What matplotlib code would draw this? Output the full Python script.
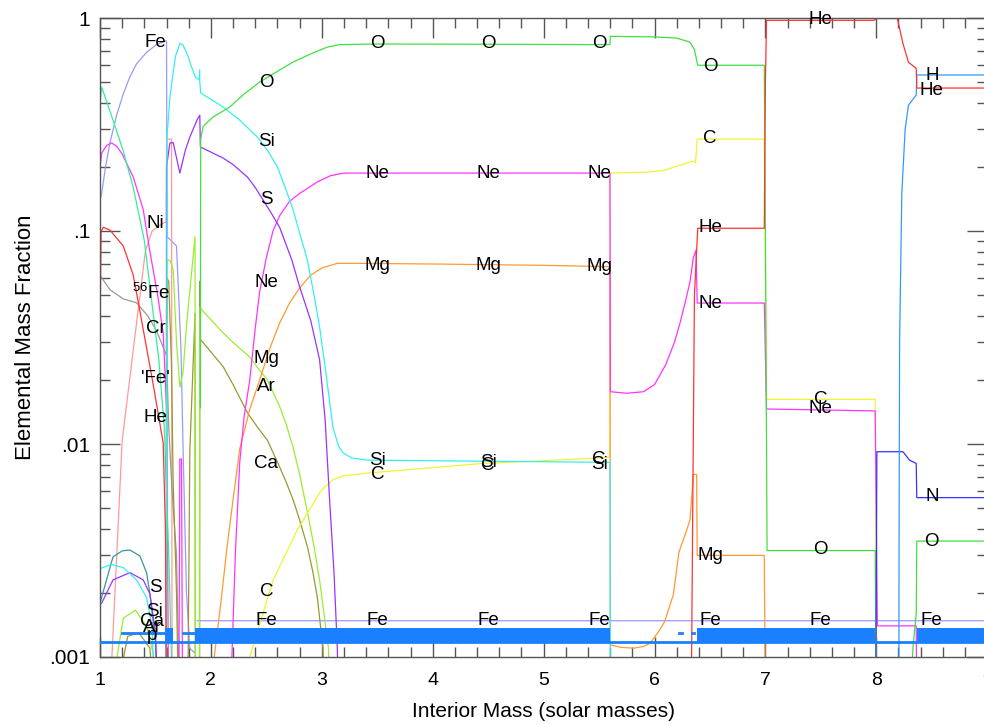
import numpy as np
import matplotlib
matplotlib.use('Agg')
import matplotlib.pyplot as plt
from matplotlib.ticker import FixedLocator, NullFormatter, LogLocator, FixedFormatter

plt.rcParams['font.family'] = ['Liberation Sans', 'DejaVu Sans']
plt.rcParams['mathtext.fontset'] = 'custom'
plt.rcParams['mathtext.rm'] = 'Liberation Sans'
plt.rcParams['mathtext.default'] = 'regular'

nan = np.nan
LOW = 5e-4

# ---------------- data (interior mass, mass fraction) ----------------
fe_x = [1.0, 1.015, 1.05, 1.09, 1.15, 1.21, 1.27, 1.33, 1.42, 1.51, 1.59, 1.60, 1.605, 1.69, 1.73,
        1.75, 1.78, 1.81, 1.85, nan, 1.875, 9.0]
fe_y = [0.14, 0.15, 0.2, 0.26, 0.35, 0.44, 0.53, 0.61, 0.69, 0.75, 0.78, 0.78, 0.094, 0.085, 0.028,
        0.009, 0.002, 0.0011, 0.00105, nan, 0.00148, 0.00148]

ni_x = [1.08, 1.2, 1.30, 1.41, 1.47, 1.57, 1.597, 1.60, 1.645, 1.65]
ni_y = [LOW, 0.0104, 0.0277, 0.081, 0.10, 0.109, 0.11, 0.27, 0.27, LOW]

fe56_x = [1.0, 1.015, 1.06, 1.105, 1.15, 1.2, 1.30, 1.39, 1.45, 1.52, 1.57, 1.60, 1.62]
fe56_y = [0.20, 0.232, 0.252, 0.259, 0.25, 0.23, 0.179, 0.126, 0.08, 0.05, 0.033, 0.015, LOW]

cr_x = [1.0, 1.09, 1.21, 1.33, 1.43, 1.51, 1.60, 1.62, 1.65, 1.69, 1.72]
cr_y = [0.062, 0.053, 0.048, 0.046, 0.040, 0.034, 0.026, 0.012, 0.006, 0.003, LOW]

feq_x = [1.0, 1.015, 1.117, 1.207, 1.30, 1.40, 1.47, 1.53, 1.58, 1.62, 1.66]
feq_y = [0.40, 0.474, 0.332, 0.24, 0.16, 0.09, 0.045, 0.025, 0.012, 0.003, LOW]

he_x = [1.0, 1.01, 1.03, 1.09, 1.21, 1.30, 1.36, 1.48, 1.57, 1.59, 1.60, nan,
        6.33, 6.36, 6.39, 6.99, 7.0, 7.01, 7.98, 8.0, 8.19, 8.24, 8.29, 8.36, 8.365, 9.0]
he_y = [0.035, 0.10, 0.104, 0.101, 0.085, 0.062, 0.042, 0.019, 0.0101, 0.004, LOW, nan,
        LOW, 0.05, 0.103, 0.103, 0.5, 0.975, 0.975, 0.995, 0.995, 0.76, 0.62, 0.58, 0.469, 0.469]

h_x = [8.203, 8.205, 8.21, 8.23, 8.26, 8.29, 8.36, 8.365, 9.0]
h_y = [LOW, 0.003, 0.03, 0.15, 0.30, 0.39, 0.435, 0.54, 0.54]

n_x = [7.995, 8.005, 8.24, 8.30, 8.36, 8.365, 9.0]
n_y = [LOW, 0.0092, 0.0092, 0.0084, 0.0081, 0.0056, 0.0056]

o_x = [1.905, 1.908, 1.93, 2.02, 2.17, 2.30, 2.44, 2.62, 2.75, 2.92, 3.05, 3.16, 3.5, 5.598, 5.602,
       6.0, 6.2, 6.32, 6.36, 6.38, 6.39, 6.99, 7.0, 7.015, 7.99, 8.0, nan,
       8.30, 8.33, 8.36, 8.365, 9.0]
o_y = [0.0148, 0.27, 0.31, 0.343, 0.382, 0.44, 0.50, 0.57, 0.625, 0.685, 0.73, 0.75, 0.755, 0.75, 0.82,
       0.815, 0.805, 0.77, 0.71, 0.635, 0.60, 0.60, 0.1, 0.00316, 0.00316, LOW, nan,
       LOW, 0.0011, 0.0016, 0.0035, 0.0035]

si_x = [1.0, 1.1, 1.21, 1.33, 1.42, 1.47, 1.5, nan,
        1.598, 1.604, 1.63, 1.65, 1.68, 1.72, 1.75, 1.79, 1.82, 1.86, 1.895, 1.898, 1.90, 1.908,
        2.11, 2.25, 2.42, 2.52, 2.60, 2.67, 2.74, 2.80, 2.87, 2.93, 2.98, 3.04, 3.10, 3.15, 3.19,
        3.27, 3.41, 4.5, 5.598, 5.602]
si_y = [0.0026, 0.00272, 0.00263, 0.0023, 0.0019, 0.00138, LOW, nan,
        LOW, 0.276, 0.42, 0.51, 0.66, 0.76, 0.745, 0.67, 0.60, 0.528, 0.512, 0.57, 0.50, 0.445,
        0.382, 0.335, 0.276, 0.235, 0.20, 0.16, 0.126, 0.098, 0.073, 0.05, 0.0355, 0.021, 0.012, 0.0098, 0.0091,
        0.0086, 0.0084, 0.0083, 0.0082, LOW]

s_x = [1.015, 1.117, 1.27, 1.39, 1.45, 1.5, 1.53, nan,
       1.598, 1.60, 1.63, 1.66, 1.72, 1.77, 1.81, 1.875, 1.90, 1.905, 2.11, 2.2, 2.33, 2.40, 2.47, 2.55,
       2.62, 2.73, 2.80, 2.90, 2.98, 3.03, 3.07, 3.11, 3.14, 3.15]
s_y = [0.00179, 0.0023, 0.00249, 0.0023, 0.00198, 0.0013, LOW, nan,
       LOW, 0.2, 0.259, 0.26, 0.187, 0.24, 0.276, 0.332, 0.35, 0.248, 0.22, 0.205, 0.179, 0.16, 0.14, 0.12,
       0.104, 0.073, 0.0547, 0.038, 0.0249, 0.013, 0.0055, 0.0025, 0.0011, LOW]

ne_x = [1.71, 1.72, 1.735, 1.745, nan, 2.17, 2.22, 2.26, 2.30, 2.35, 2.40, 2.44, 2.50, 2.56, 2.62,
        2.71, 2.80, 2.96, 3.08, 3.2, 5.598, 5.602, 5.75, 5.9, 6.0, 6.1, 6.18, 6.23, 6.28, 6.32, 6.35,
        6.375, 6.385, 6.99, 7.01, 7.99, 8.01, 8.36, 8.365]
ne_y = [LOW, 0.0085, 0.0085, LOW, nan, LOW, 0.003, 0.0082, 0.0135, 0.0199, 0.035, 0.052, 0.075, 0.10, 0.118,
        0.138, 0.150, 0.170, 0.182, 0.187, 0.187, 0.0176, 0.0173, 0.0176, 0.019, 0.0235, 0.030, 0.037, 0.047,
        0.0577, 0.0747, 0.0815, 0.0459, 0.0459, 0.0146, 0.0143, 0.0014, 0.0014, LOW]

mg_x = [2.0, 2.03, 2.09, 2.145, 2.2, 2.26, 2.35, 2.44, 2.53, 2.62, 2.71, 2.80, 2.90, 3.0, 3.14, 3.3,
        4.0, 5.0, 5.598, 5.602, 5.7, 5.81, 5.9, 5.96, 6.03, 6.09, 6.17, 6.22, 6.28, 6.32, 6.34, 6.35,
        6.38, 6.385, 6.99, 7.0]
mg_y = [LOW, 0.001, 0.0018, 0.00326, 0.0055, 0.0095, 0.0145, 0.020, 0.028, 0.037, 0.046, 0.054, 0.062,
        0.067, 0.0705, 0.0705, 0.070, 0.069, 0.068, 0.00114, 0.00111, 0.0011, 0.00112, 0.00116, 0.0013,
        0.00146, 0.00196, 0.0031, 0.0038, 0.0044, 0.006, 0.0072, 0.0072, 0.0030, 0.0030, LOW]

c_x = [2.33, 2.35, 2.56, 2.78, 2.96, 3.0, 3.10, 3.2, 3.41, 4.45, 5.51, 5.598, 5.602, 5.93, 6.08, 6.23,
       6.35, 6.37, 6.385, 6.99, 7.01, 7.99, 8.005]
c_y = [LOW, 0.001, 0.00229, 0.00396, 0.00565, 0.0061, 0.0068, 0.0071, 0.0073, 0.0081, 0.0086, 0.0087,
       0.187, 0.189, 0.192, 0.204, 0.213, 0.21, 0.27, 0.27, 0.0162, 0.0162, LOW]

ar_x = [1.06, 1.21, 1.32, 1.42, 1.48, 1.5, nan,
        1.598, 1.604, 1.63, 1.66, 1.69, 1.72, 1.75, 1.78, 1.857, 1.86, nan,
        1.895, 1.90, 2.11, 2.2, 2.35, 2.43, 2.51, 2.62, 2.68, 2.74, 2.80, 2.87, 2.93, 2.98, 3.06, 3.08]
ar_y = [LOW, 0.00152, 0.00166, 0.00139, 0.00104, LOW, nan,
        LOW, 0.073, 0.073, 0.066, 0.03, 0.0185, 0.022, 0.036, 0.094, LOW, nan,
        LOW, 0.0437, 0.0332, 0.030, 0.0256, 0.0225, 0.0200, 0.0150, 0.0123, 0.0097, 0.0072, 0.0048,
        0.0033, 0.0023, 0.0011, LOW]

ca_x = [1.1, 1.25, 1.35, 1.45, 1.5, nan,
        1.598, 1.605, 1.62, 1.645, 1.66, 1.69, 1.71, nan,
        1.79, 1.81, 1.857, 1.86, nan,
        1.898, 1.90, 1.905, 2.11, 2.2, 2.33, 2.42, 2.51, 2.62, 2.68, 2.74, 2.80, 2.87, 2.92, 2.96, 3.01, 3.03]
ca_y = [LOW, 0.00125, 0.0013, 0.0011, LOW, nan,
        LOW, 0.06, 0.058, 0.023, 0.0065, 0.002, LOW, nan,
        LOW, 0.0093, 0.041, LOW, nan,
        LOW, 0.058, 0.031, 0.0231, 0.019, 0.0140, 0.012, 0.0104, 0.0078, 0.0066, 0.0055, 0.0044, 0.0033,
        0.0025, 0.0019, 0.0011, LOW]

cl_x = [1.0, 1.117, 1.2, 1.27, 1.36, 1.42, 1.45, 1.5, 1.52]
cl_y = [0.00179, 0.00295, 0.00315, 0.00318, 0.00298, 0.00249, 0.00198, 0.0012, LOW]

# proton band: floor line, filled band segments, thin mid segments
p_floor = 0.00118
p_top = 0.00137
p_mid = 0.0013
p_band_start = [1.585, 1.86, 6.385, 8.37]
p_band_end = [1.66, 5.60, 7.99, 9.0]
p_mid_start = [1.20, 1.75, 6.225, 6.335]
p_mid_end = [1.585, 1.86, 6.245, 6.355]

label_text = ['Fe', 'Ni', '$^{56}$Fe', 'Cr', "'Fe'", 'He', 'S', 'Si', 'Ca', 'Ar', 'p',
              'O', 'Si', 'S', 'Ne', 'Mg', 'Ar', 'Ca', 'C', 'Fe',
              'O', 'Ne', 'Mg', 'Si', 'C', 'Fe',
              'O', 'Ne', 'Mg', 'Si', 'C', 'Fe',
              'O', 'Ne', 'Mg', 'C', 'Si', 'Fe',
              'O', 'C', 'He', 'Ne', 'Mg', 'Fe',
              'He', 'C', 'Ne', 'O', 'Fe',
              'H', 'He', 'N', 'O', 'Fe']
label_x = [1.5, 1.5, 1.46, 1.5, 1.5, 1.5, 1.5, 1.49, 1.47, 1.47, 1.47,
           2.5, 2.5, 2.5, 2.5, 2.5, 2.5, 2.5, 2.5, 2.5,
           3.5, 3.5, 3.5, 3.5, 3.5, 3.5,
           4.5, 4.5, 4.5, 4.5, 4.5, 4.5,
           5.5, 5.5, 5.5, 5.5, 5.5, 5.5,
           6.5, 6.5, 6.5, 6.5, 6.5, 6.5,
           7.5, 7.5, 7.5, 7.5, 7.5,
           8.5, 8.5, 8.5, 8.5, 8.5]
label_y = [0.771, 0.108, 0.0511, 0.0349, 0.0203, 0.0133, 0.00211, 0.00163, 0.00146, 0.00137, 0.00126,
           0.50, 0.262, 0.140, 0.057, 0.0251, 0.0187, 0.00814, 0.00202, 0.00148,
           0.755, 0.187, 0.0689, 0.00841, 0.00723, 0.00148,
           0.755, 0.187, 0.0685, 0.00823, 0.00796, 0.00148,
           0.755, 0.187, 0.0678, 0.0085, 0.00805, 0.00148,
           0.589, 0.273, 0.1034, 0.0459, 0.00301, 0.00148,
           0.989, 0.01626, 0.0146, 0.00318, 0.00148,
           0.54, 0.459, 0.00564, 0.0035, 0.00148]

# ---------------- figure ----------------
fig = plt.figure(figsize=(9.84, 7.25), dpi=100)
ax = fig.add_axes([100 / 984, 68 / 725, 887.2 / 984, 639 / 725])

series = [
    (fe_x, fe_y, '#9999ff'), (ni_x, ni_y, '#ff9999'), (fe56_x, fe56_y, '#ff33ff'),
    (cr_x, cr_y, '#999999'), (feq_x, feq_y, '#33ee99'), (cl_x, cl_y, '#339999'),
    (ca_x, ca_y, '#999933'), (ar_x, ar_y, '#99ee33'), (c_x, c_y, '#f2f233'),
    (mg_x, mg_y, '#ff9933'), (ne_x, ne_y, '#ff33ff'), (s_x, s_y, '#9933ff'),
    (si_x, si_y, '#33f0f0'), (o_x, o_y, '#40e040'), (n_x, n_y, '#3333ff'),
    (h_x, h_y, '#3399ff'), (he_x, he_y, '#ff3333'),
]
for xs, ys, col in series:
    ax.plot(xs, ys, color=col, lw=0.9, zorder=2)

pcol = '#1a80ff'
ax.plot([1.0, 9.0], [p_floor, p_floor], color=pcol, lw=2.0, zorder=3)
for a, b in zip(p_band_start, p_band_end):
    ax.fill_between([a, b], [p_floor, p_floor], [p_top, p_top], color=pcol, lw=0, zorder=3)
for a, b in zip(p_mid_start, p_mid_end):
    ax.plot([a, b], [p_mid, p_mid], color=pcol, lw=2.0, zorder=3)

for t, x, y in zip(label_text, label_x, label_y):
    ax.text(x, y, t, ha='center', va='center', fontsize=13.5, color='black', zorder=5)

ax.set_yscale('log')
ax.set_xlim(1, 9)
ax.set_ylim(0.001, 1)

ax.yaxis.set_major_locator(FixedLocator([0.001, 0.01, 0.1, 1]))
ax.yaxis.set_major_formatter(FixedFormatter(['.001', '.01', '.1', '1']))
ax.yaxis.set_minor_locator(LogLocator(base=10, subs=np.arange(2, 10)))
ax.yaxis.set_minor_formatter(NullFormatter())
ax.xaxis.set_major_locator(FixedLocator([1, 2, 3, 4, 5, 6, 7, 8, 9]))
ax.xaxis.set_minor_locator(FixedLocator(np.arange(1, 9.01, 0.2)))

tc = '#555555'
ax.tick_params(which='both', direction='in', top=True, right=True, color=tc, width=1.0)
ax.tick_params(which='major', length=14.5)
ax.tick_params(which='minor', length=7)
ax.tick_params(axis='x', which='major', pad=11, labelsize=14)
ax.tick_params(axis='y', which='major', pad=7, labelsize=15)
for sp in ax.spines.values():
    sp.set_color(tc)
    sp.set_linewidth(1.0)

ax.set_xlabel('Interior Mass (solar masses)', fontsize=15, labelpad=9)
ax.set_ylabel('Elemental Mass Fraction', fontsize=16, labelpad=10)

fig.savefig('out.png', dpi=100)
